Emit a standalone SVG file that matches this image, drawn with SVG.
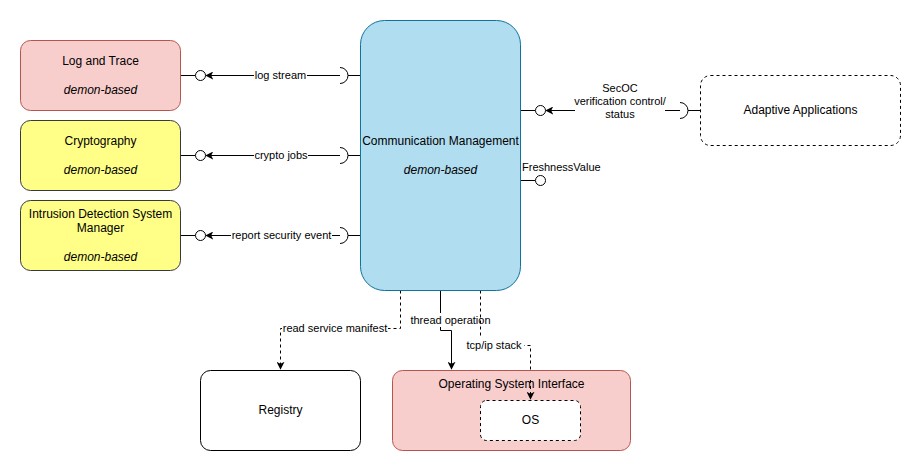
<svg xmlns="http://www.w3.org/2000/svg" width="921" height="472" viewBox="0 0 921 472">
<style>
text{font-family:"Liberation Sans",Arial,sans-serif;font-size:12px;fill:#000;text-anchor:middle}
.it{font-style:italic}
.ln{fill:none;stroke:#000;stroke-width:1}
.dash{stroke-dasharray:3 3}
.ball{fill:#fff;stroke:#000;stroke-width:1}
.lbl{font-size:11px}
</style>
<defs>
<marker id="arr" viewBox="0 0 10 10" refX="9" refY="5" markerWidth="8" markerHeight="8" orient="auto" markerUnits="userSpaceOnUse">
<path d="M0,0 L10,5 L0,10 L2.5,5 Z" fill="#000"/>
</marker>
</defs>
<rect width="921" height="472" fill="#fff"/>
<g id="connectors">
<!-- log stream -->
<path class="ln" d="M180.5,75.5 H195"/>
<path class="ln" d="M340,75.5 H206" marker-end="url(#arr)"/>
<path class="ln" d="M340,67.5 A8,8 0 0 1 340,83.5"/>
<path class="ln" d="M348,75.5 H360.5"/>
<rect x="254" y="68" width="53" height="14" fill="#fff"/>
<text x="280.5" y="79" class="lbl">log stream</text>
<!-- crypto jobs -->
<path class="ln" d="M180.5,155.5 H195"/>
<path class="ln" d="M340,155.5 H206" marker-end="url(#arr)"/>
<path class="ln" d="M340,147.5 A8,8 0 0 1 340,163.5"/>
<path class="ln" d="M348,155.5 H360.5"/>
<rect x="254" y="148" width="54" height="14" fill="#fff"/>
<text x="281" y="159" class="lbl">crypto jobs</text>
<!-- report security event -->
<path class="ln" d="M180.5,235.5 H195"/>
<path class="ln" d="M340,235.5 H206" marker-end="url(#arr)"/>
<path class="ln" d="M340,227.5 A8,8 0 0 1 340,243.5"/>
<path class="ln" d="M348,235.5 H360.5"/>
<rect x="231" y="228" width="101" height="14" fill="#fff"/>
<text x="281.5" y="239" class="lbl">report security event</text>
<!-- SecOC -->
<path class="ln" d="M520.5,110.5 H535"/>
<path class="ln" d="M575,110.5 H546" marker-end="url(#arr)"/>
<path class="ln" d="M665,110.5 H680"/>
<path class="ln" d="M680,102.5 A8,8 0 0 1 680,118.5"/>
<path class="ln" d="M688,110.5 H700.5"/>
<text x="620" y="92" class="lbl">SecOC</text>
<text x="620" y="105" class="lbl">verification control/</text>
<text x="620" y="118" class="lbl">status</text>
<!-- FreshnessValue -->
<path class="ln" d="M520.5,180.5 H535"/>
<text x="522" y="171" class="lbl" style="text-anchor:start">FreshnessValue</text>
<!-- read service manifest -->
<path class="ln dash" d="M400.5,290.5 V328.5 H280.5 V369" marker-end="url(#arr)"/>
<rect x="282" y="321" width="106" height="14" fill="#fff"/>
<text x="335" y="332" class="lbl">read service manifest</text>
<!-- thread operation -->
<path class="ln" d="M440.5,290.5 V330.5 H451.5 V369" marker-end="url(#arr)"/>
<rect x="409" y="313" width="83" height="14" fill="#fff"/>
<text x="450.5" y="324" class="lbl">thread operation</text>
<!-- tcp/ip stack -->
<path class="ln dash" d="M480.5,290.5 V345.5 H530.5 V399" marker-end="url(#arr)"/>
<rect x="466" y="338" width="58" height="14" fill="#fff"/>
<text x="494" y="349" class="lbl">tcp/ip stack</text>
</g>
<g id="balls">
<circle class="ball" cx="200.5" cy="75.5" r="5"/>
<circle class="ball" cx="200.5" cy="155.5" r="5"/>
<circle class="ball" cx="200.5" cy="235.5" r="5"/>
<circle class="ball" cx="540.5" cy="110.5" r="5"/>
<circle class="ball" cx="540.5" cy="180.5" r="5"/>
</g>
<g id="log-and-trace">
<rect x="20.5" y="40.5" width="160" height="70" rx="10" fill="#f8cecc" stroke="#b85450"/>
<text x="100.5" y="65">Log and Trace</text>
<text x="100.5" y="94" class="it">demon-based</text>
</g>
<g id="cryptography">
<rect x="20.5" y="120.5" width="160" height="70" rx="10" fill="#ffff88" stroke="#36393d"/>
<text x="100.5" y="145">Cryptography</text>
<text x="100.5" y="174" class="it">demon-based</text>
</g>
<g id="ids-manager">
<rect x="20.5" y="200.5" width="160" height="70" rx="10" fill="#ffff88" stroke="#36393d"/>
<text x="100.5" y="218">Intrusion Detection System</text>
<text x="100.5" y="232">Manager</text>
<text x="100.5" y="261" class="it">demon-based</text>
</g>
<g id="communication-management">
<rect x="360.5" y="20.5" width="160" height="270" rx="24" fill="#b1ddf0" stroke="#10739e"/>
<text x="440.5" y="145">Communication Management</text>
<text x="440.5" y="174" class="it">demon-based</text>
</g>
<g id="adaptive-applications">
<rect x="700.5" y="75.5" width="200" height="70" rx="10" fill="#fff" stroke="#000" stroke-dasharray="3 3"/>
<text x="800.5" y="114">Adaptive Applications</text>
</g>
<g id="registry">
<rect x="200.5" y="370.5" width="160" height="80" rx="10" fill="#fff" stroke="#000"/>
<text x="280.5" y="414">Registry</text>
</g>
<g id="operating-system-interface">
<rect x="392.5" y="370.5" width="238" height="80" rx="10" fill="#f8cecc" stroke="#b85450"/>
<text x="511.5" y="388">Operating System Interface</text>
</g>
<g id="os">
<rect x="480.5" y="400.5" width="100" height="40" rx="6" fill="#fff" stroke="#000" stroke-dasharray="3 3"/>
<text x="530.5" y="424">OS</text>
</g>
<path class="ln dash" d="M530.5,380 V399" marker-end="url(#arr)"/>
</svg>
